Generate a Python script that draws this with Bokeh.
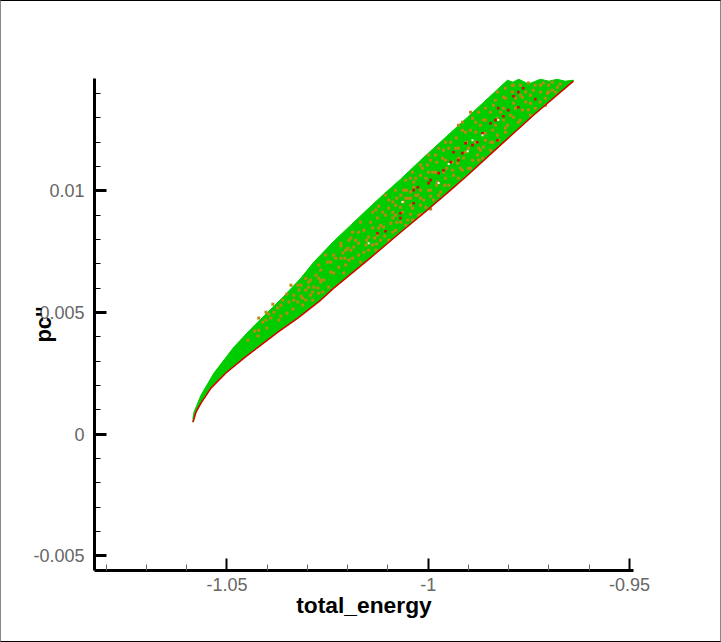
from bokeh.plotting import figure
from bokeh.models import FixedTicker, Range1d
from bokeh.embed import file_html
from bokeh.resources import INLINE

upper_energy = [-1.05843,-1.05818,-1.05645,-1.05322,-1.04826,-1.04405,-1.03983,-1.03586,-1.03165,-1.02842,-1.02346,-1.01925,-1.01503,-1.01106,-1.00685,-1.00189,-0.99866,-0.99023,-0.98031,-0.97900,-0.97750,-0.97600,-0.97510,-0.97336,-0.97212,-0.97000,-0.96800,-0.96600,-0.96394]
upper_pc = [0.00066,0.00090,0.00160,0.00251,0.00358,0.00432,0.00501,0.00567,0.00641,0.00707,0.00793,0.00859,0.00925,0.00986,0.01048,0.01126,0.01175,0.01303,0.01455,0.01447,0.01459,0.01447,0.01439,0.01451,0.01459,0.01451,0.01459,0.01451,0.01455]
lower_energy = [-1.05843,-1.05769,-1.05645,-1.05397,-1.05025,-1.04578,-1.04157,-1.03735,-1.03239,-1.02669,-1.02346,-1.01503,-1.00685,-1.00114,-0.99445,-0.99023,-0.98205,-0.97386,-0.96394]
lower_pc = [0.00049,0.00090,0.00127,0.00189,0.00251,0.00312,0.00366,0.00419,0.00477,0.00551,0.00600,0.00715,0.00830,0.00908,0.01003,0.01064,0.01188,0.01311,0.01451]

olive_energy = [-1.0448,-1.0423,-1.0431,-1.0421,-1.0401,-1.0411,-1.0403,-1.0391,-1.0396,-1.0371,-1.0366,-1.0383,-1.0374,-1.0351,-1.0336,-1.0366,-1.0346,-1.0334,-1.0324,-1.0334,-1.0321,-1.0324,-1.0297,-1.0304,-1.0287,-1.0274,
 -1.0312,-1.0304,-1.0292,-1.0284,-1.0272,-1.0259,-1.0247,-1.0267,-1.0250,-1.0235,-1.0222,-1.0210,-1.0235,-1.0212,-1.0197,-1.0185,-1.0173,-1.0160,-1.0192,-1.0138,-1.0148,-1.0126,-1.0160,-1.0143,-1.0126,-1.0111,-1.0093,-1.0113,-1.0098,-1.0081,-1.0069,-1.0088,-1.0051,-1.0039,-1.0026,-1.0011,-1.0061,-0.9994,-0.9969,-1.0036,-1.0130,-1.0173,-1.0200,-1.0217,-1.0267,-1.0118,-1.0051,-1.0024,
 -1.0061,-1.0044,-1.0019,-0.9999,-1.0036,-0.9977,-0.9962,-0.9989,-1.0019,-0.9937,-0.9927,-0.9957,-0.9982,-1.0002,-0.9912,-0.9895,-0.9878,-0.9863,-0.9900,-0.9925,-0.9944,-0.9962,-0.9845,-0.9828,-0.9858,-0.9882,-0.9907,-0.9925,-0.9890,-0.9863,-0.9828,-0.9803,-0.9788,-0.9766,-0.9813,-0.9838,-0.9858,-0.9788,-0.9746,-0.9766,-0.9722,-0.9813,-0.9791,-0.9739,-0.9704,-0.9679,-0.9714,-0.9751,-0.9771,-0.9692,-0.9788,-0.9987,
 -1.0054,-1.0031,-1.0056,-1.0006,-1.0044,-1.0078,-1.0088,-1.0031,-1.0006,-1.0014,-0.9982,-0.9957,-0.9994,-0.9964,-0.9940,-0.9920,-0.9949,-0.9974,-0.9930,-0.9905,-0.9875,-0.9858,-0.9895,-0.9915,-0.9870,-0.9840,-0.9808,-0.9820,-0.9845,-0.9875,-0.9895,-0.9771,-0.9751,-0.9734,-0.9709,-0.9684,-0.9701,-0.9734,-0.9808,-0.9828,-0.9783,-0.9758,
 -1.0188,-1.0168,-1.0138,-1.0118,-1.0138,-1.0106,-1.0081,-1.0106,-1.0081,-1.0056,-1.0180,-1.0155,-1.0205,-1.0230,-1.0255,-1.0272,-1.0242,-1.0205,-1.0188,-1.0292,-1.0316,-1.0304,-1.0341,-1.0279,-1.0262,-1.0312,-1.0287,-1.0130,-1.0098,-1.0081,-1.0056,-1.0039,-1.0019,-0.9994,-0.9974,-0.9949,-0.9925,-0.9900,-0.9875,-0.9845,-0.9825,
 -1.0192,-1.0173,-1.0153,-1.0133,-1.0123,-1.0108,-1.0088,-1.0088,-1.0068,-1.0064,-1.0044,-1.0123,-1.0098,-1.0068,-1.0044,-1.0019,-1.0039,-1.0044,-1.0019,-0.9999,-0.9979,-0.9959,-0.9940,-0.9925,-0.9954,-0.9979,-0.9999,-0.9957,-0.9932,-0.9907,-0.9890,-0.9865,-0.9882,-0.9915,-0.9882,-0.9858,-0.9833,-0.9813,-0.9796,-0.9783,-0.9758,-0.9808,-0.9833,-0.9791,-0.9771,-0.9746,-0.9721,-0.9692,-0.9672,-0.9721,
 -1.0267,-1.0242,-1.0217,-1.0272,-1.0297,-1.0316,-1.0351,-1.0361,-1.0386,-1.0403,-1.0421,-1.0197,-1.0217,-1.0168,-1.0207,-1.0148,-1.0128,-1.0078,-1.0019,-0.9994,-0.9915,-0.9870,-0.9840,-0.9808,-0.9776,-0.9746,-0.9709,-0.9701]
olive_pc = [0.00386,0.00403,0.00423,0.00427,0.00436,0.00460,0.00469,0.00477,0.00493,0.00469,0.00485,0.00501,0.00518,0.00497,0.00514,0.00530,0.00543,0.00551,0.00543,0.00571,0.00592,0.00612,0.00604,0.00551,0.00584,0.00600,
 0.00559,0.00592,0.00571,0.00604,0.00579,0.00633,0.00604,0.00674,0.00707,0.00662,0.00686,0.00662,0.00736,0.00744,0.00715,0.00769,0.00785,0.00748,0.00806,0.00777,0.00810,0.00818,0.00838,0.00871,0.00888,0.00851,0.00867,0.00912,0.00929,0.00900,0.00933,0.00954,0.00970,0.00929,0.00982,0.00962,0.01003,0.01003,0.00995,0.01015,0.00921,0.00736,0.00764,0.00785,0.00633,0.00797,0.00880,0.00900,
 0.00954,0.00995,0.00970,0.01003,0.01036,0.01036,0.01077,0.01077,0.01064,0.01064,0.01114,0.01126,0.01147,0.01106,0.01135,0.01093,0.01147,0.01180,0.01175,0.01175,0.01200,0.01167,0.01200,0.01229,0.01237,0.01241,0.01241,0.01270,0.01299,0.01291,0.01299,0.01270,0.01303,0.01332,0.01340,0.01352,0.01340,0.01360,0.01360,0.01385,0.01365,0.01385,0.01406,0.01414,0.01401,0.01426,0.01443,0.01443,0.01434,0.01447,0.01434,0.00962,
 0.01003,0.00982,0.00970,0.00933,0.00941,0.00970,0.00912,0.01052,0.01052,0.01093,0.01077,0.01052,0.01126,0.01134,0.01118,0.01093,0.01175,0.01175,0.01217,0.01200,0.01175,0.01208,0.01249,0.01282,0.01270,0.01249,0.01258,0.01323,0.01323,0.01323,0.01323,0.01290,0.01332,0.01340,0.01381,0.01406,0.01434,0.01434,0.01422,0.01406,0.01381,0.01406,
 0.00830,0.00871,0.00847,0.00859,0.00912,0.00900,0.00941,0.00982,0.01003,0.01044,0.00797,0.00777,0.00756,0.00723,0.00736,0.00695,0.00666,0.00695,0.00723,0.00633,0.00612,0.00640,0.00612,0.00653,0.00584,0.00530,0.00551,0.00756,0.00797,0.00838,0.00859,0.00880,0.00941,0.00925,0.00982,0.01023,0.01052,0.01093,0.01126,0.01167,0.01208,
 0.00756,0.00830,0.00797,0.00806,0.00847,0.00814,0.00830,0.00888,0.00871,0.00912,0.00904,0.00937,0.00962,0.00982,0.00970,0.01003,0.01077,0.01052,0.01106,0.01077,0.01023,0.01023,0.01085,0.01134,0.01093,0.01118,0.01147,0.01200,0.01175,0.01159,0.01126,0.01134,0.01200,0.01249,0.01282,0.01291,0.01270,0.01291,0.01311,0.01340,0.01365,0.01381,0.01373,0.01434,0.01393,0.01393,0.01406,0.01414,0.01439,0.01434,
 0.00625,0.00707,0.00723,0.00641,0.00625,0.00567,0.00575,0.00551,0.00534,0.00501,0.00477,0.00797,0.00773,0.00707,0.00723,0.00756,0.00781,0.00871,0.00904,0.00978,0.01085,0.01167,0.01200,0.01241,0.01282,0.01311,0.01352,0.01406]

red_energy = [-0.9764,-0.9776,-0.9788,-0.9734,-0.9826,-0.9801,-0.9776,-0.9813,-0.9833,-0.9845,-0.9828,-0.9878,-0.9890,-0.9907,-0.9865,-0.9937,-0.9915,-0.9925,-0.9944,-0.9962,-0.9974,-0.9994,-1.0036,-1.0026,-1.0036,-1.0069,-1.0069,-1.0126,-1.0106,-0.9999]
red_pc = [0.01422,0.01406,0.01389,0.01377,0.01340,0.01332,0.01344,0.01307,0.01291,0.01278,0.01208,0.01200,0.01188,0.01196,0.01237,0.01159,0.01155,0.01126,0.01118,0.01085,0.01073,0.01044,0.00949,0.01015,0.01003,0.00908,0.00888,0.00826,0.00834,0.01032]

white_energy = [-0.9865,-0.9890,-0.9949,-0.9974,-0.9826,-0.9902,-1.0148,-1.0064]
white_pc = [0.01229,0.01208,0.01110,0.01032,0.01291,0.01163,0.00785,0.00954]

x_major = [-1.05, -1.0, -0.95]
x_labels = {-1.05: "-1.05", -1.0: "-1", -0.95: "-0.95"}
x_minor = [-1.08,-1.07,-1.06,-1.04,-1.03,-1.02,-1.01,-0.99,-0.98,-0.97,-0.96]
y_major = [-0.005, 0.0, 0.005, 0.01]
y_labels = {-0.005: "-0.005", 0.0: "0", 0.005: "0.005", 0.01: "0.01"}
y_minor = [-0.004,-0.003,-0.002,-0.001,0.001,0.002,0.003,0.004,0.006,0.007,0.008,0.009,0.011,0.012,0.013,0.014]

GREEN, RED, OLIVE = "#00CC00", "#DD0000", "#B88A14"

p = figure(width=721, height=642, output_backend="svg", toolbar_location=None,
           x_range=Range1d(-1.0829, -0.9490), y_range=Range1d(-0.00561, 0.01462),
           min_border_left=93, min_border_right=89, min_border_top=77, min_border_bottom=73,
           outline_line_color=None)
p.styles = {"border-top": "1px solid #000", "border-bottom": "1px solid #000",
            "border-left": "1px solid #888", "border-right": "1px solid #888",
            "box-sizing": "border-box"}
p.grid.visible = False

p.patch(upper_energy + lower_energy[::-1], upper_pc + lower_pc[::-1], fill_color=GREEN, line_color=GREEN, line_width=1)
p.scatter(olive_energy, olive_pc, marker="square", size=3, fill_color=OLIVE, line_color=None)
p.scatter(red_energy, red_pc, marker="square", size=2.6, fill_color=RED, line_color=None)
p.scatter(white_energy, white_pc, marker="square", size=2, fill_color="#FFFFFF", line_color=None)
p.line(lower_energy, lower_pc, line_color=RED, line_width=1.5)

xa, ya = p.xaxis[0], p.yaxis[0]
xa.ticker = FixedTicker(ticks=x_major, minor_ticks=x_minor)
xa.major_label_overrides = x_labels
xa.axis_label = "total_energy"
ya.ticker = FixedTicker(ticks=y_major, minor_ticks=y_minor)
ya.major_label_overrides = y_labels
ya.axis_label = "pc''"

for ax in (xa, ya):
    ax.axis_line_color = "#000"
    ax.axis_line_width = 3
    ax.major_tick_line_color = "#000"
    ax.minor_tick_line_color = "#000"
    ax.major_tick_in = 12
    ax.major_tick_out = 0
    ax.minor_tick_in = 6
    ax.minor_tick_out = 0
    ax.minor_tick_line_width = 1
    ax.major_label_text_font = "Liberation Sans"
    ax.major_label_text_font_size = "18px"
    ax.major_label_text_color = "#666666"
    ax.axis_label_text_font = "Liberation Sans"
    ax.axis_label_text_font_style = "bold"
    ax.axis_label_text_color = "#000"
xa.major_label_standoff = 7
ya.major_label_standoff = 10
xa.major_tick_line_width = 2
ya.major_tick_line_width = 3
xa.minor_tick_line_color = "#666"
xa.axis_label_text_font_size = "22.8px"
ya.axis_label_text_font_size = "22px"
xa.axis_label_standoff = -2
ya.axis_label_standoff = -26

open("out.html", "w").write(file_html(p, INLINE))
